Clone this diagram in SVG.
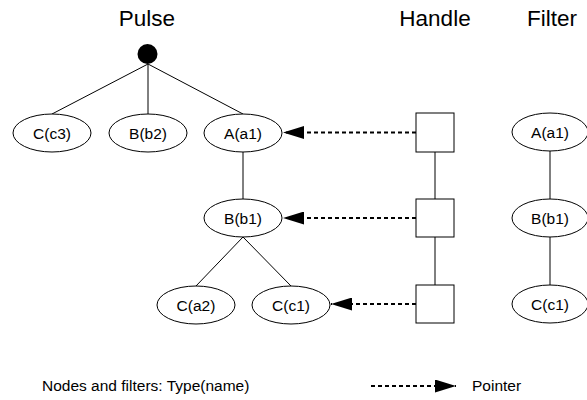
<svg xmlns="http://www.w3.org/2000/svg" width="587" height="400" viewBox="0 0 587 400">
<defs>
<marker id="ah" markerWidth="21" markerHeight="13" refX="21" refY="6.5" orient="auto" markerUnits="userSpaceOnUse">
<path d="M0,0 L21,6.5 L0,13 Z" fill="#000"/>
</marker>
<style>
text{font-family:"Liberation Sans",Arial,sans-serif;fill:#000}
.t{font-size:22.5px;text-anchor:middle}
.n{font-size:15.5px;text-anchor:middle}
.l{font-size:15.5px}
ellipse,rect{fill:#fff;stroke:#000;stroke-width:1}
.e{stroke:#000;stroke-width:1;fill:none}
.p{stroke:#000;stroke-width:1.8;stroke-dasharray:4,3;fill:none;marker-end:url(#ah)}
</style>
</defs>
<text class="t" x="147" y="26">Pulse</text>
<text class="t" x="435" y="26">Handle</text>
<text class="t" x="552" y="26">Filter</text>
<g id="edges">
<line class="e" x1="148" y1="64" x2="52" y2="114"/>
<line class="e" x1="148" y1="64" x2="148" y2="114"/>
<line class="e" x1="148" y1="64" x2="243" y2="114"/>
<line class="e" x1="243" y1="152" x2="243" y2="199"/>
<line class="e" x1="243" y1="237" x2="196" y2="286"/>
<line class="e" x1="243" y1="237" x2="291" y2="286"/>
<line class="e" x1="435" y1="152" x2="435" y2="199"/>
<line class="e" x1="435" y1="237" x2="435" y2="285"/>
<line class="e" x1="550" y1="151" x2="550" y2="199"/>
<line class="e" x1="550" y1="237" x2="550" y2="285"/>
<line class="p" x1="416" y1="132.5" x2="283" y2="132.5"/>
<line class="p" x1="416" y1="218" x2="283" y2="218"/>
<line class="p" x1="416" y1="304" x2="331" y2="304"/>
<line class="p" x1="371" y1="386" x2="456" y2="386"/>
</g>
<g id="root"><circle cx="147.5" cy="54" r="10" fill="#000"/></g>
<g id="c3"><ellipse cx="52" cy="133" rx="39" ry="19"/><text class="n" x="52" y="138.5">C(c3)</text></g>
<g id="b2"><ellipse cx="148" cy="133" rx="39" ry="19"/><text class="n" x="148" y="138.5">B(b2)</text></g>
<g id="a1"><ellipse cx="243" cy="133" rx="39" ry="19"/><text class="n" x="243" y="138.5">A(a1)</text></g>
<g id="b1"><ellipse cx="243" cy="218" rx="39" ry="19"/><text class="n" x="243" y="223.5">B(b1)</text></g>
<g id="a2"><ellipse cx="196" cy="305" rx="39" ry="19"/><text class="n" x="196" y="310.5">C(a2)</text></g>
<g id="c1"><ellipse cx="291" cy="305" rx="39" ry="19"/><text class="n" x="291" y="310.5">C(c1)</text></g>
<g id="h1"><rect x="416" y="113" width="38" height="39"/></g>
<g id="h2"><rect x="416" y="199" width="38" height="38"/></g>
<g id="h3"><rect x="416" y="285" width="38" height="38"/></g>
<g id="fa1"><ellipse cx="550" cy="132" rx="38" ry="19"/><text class="n" x="550" y="137.5">A(a1)</text></g>
<g id="fb1"><ellipse cx="550" cy="218" rx="38" ry="19"/><text class="n" x="550" y="223.5">B(b1)</text></g>
<g id="fc1"><ellipse cx="550" cy="304" rx="38" ry="19"/><text class="n" x="550" y="309.5">C(c1)</text></g>
<text class="l" x="42" y="391">Nodes and filters: Type(name)</text>
<text class="l" x="472" y="391">Pointer</text>
</svg>
